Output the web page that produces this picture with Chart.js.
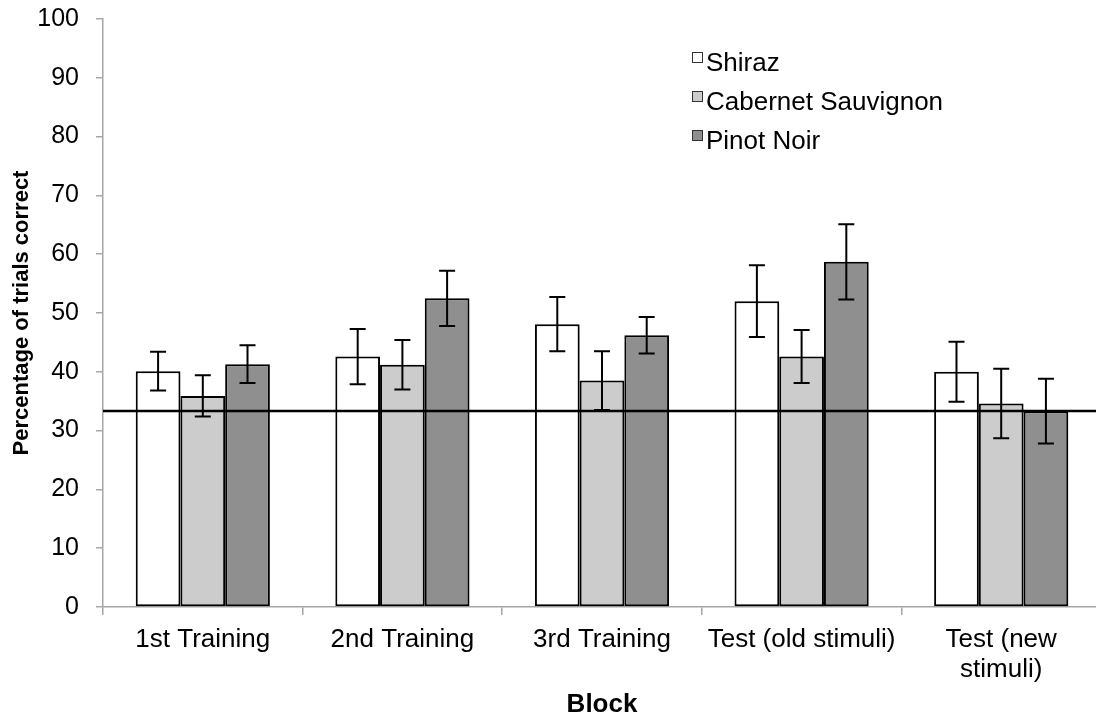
<!DOCTYPE html>
<html>
<head>
<meta charset="utf-8">
<script src="https://cdn.jsdelivr.net/npm/chart.js@4/dist/chart.umd.min.js"></script>
<style>
  html, body { margin: 0; padding: 0; background: #fff; overflow: hidden; }
  #wrap { width: 1101px; height: 717px; }
</style>
</head>
<body>
<div id="wrap"><canvas id="c" width="1101" height="717"></canvas></div>
<script>
// Blocks of the experiment
const blocks = ['1st Training', '2nd Training', '3rd Training', 'Test (old stimuli)', ['Test (new', 'stimuli)']];

// Mean percentage of trials correct per wine variety
const shiraz    = [40.1, 42.6, 48.1, 52.0, 40.0];
const cabernet  = [35.9, 41.2, 38.5, 42.6, 34.6];
const pinotNoir = [41.3, 52.5, 46.2, 58.7, 33.3];

// Error bar half-widths (+/-)
const shirazErr    = [3.3, 4.7, 4.6, 6.1, 5.1];
const cabernetErr  = [3.5, 4.2, 5.0, 4.5, 5.9];
const pinotNoirErr = [3.2, 4.7, 3.1, 6.4, 5.5];

// Chance level (one in three)
const chanceLevel = 33.33;

const yTicks = { min: 0, max: 100, step: 10 };

const FONT = "'Liberation Sans', Arial, Helvetica, sans-serif";

const errorBars = {
  id: 'errorBars',
  afterDatasetsDraw(chart) {
    const ctx = chart.ctx;
    const y = chart.scales.y;
    ctx.save();
    ctx.shadowColor = 'transparent';
    ctx.strokeStyle = '#000';
    ctx.lineWidth = 2;
    chart.data.datasets.forEach((ds, i) => {
      const meta = chart.getDatasetMeta(i);
      meta.data.forEach((bar, j) => {
        const v = ds.data[j], e = ds.errors[j];
        const top = y.getPixelForValue(v + e);
        const bot = y.getPixelForValue(v - e);
        const x = bar.x, cap = 8;
        ctx.beginPath();
        ctx.moveTo(x, top); ctx.lineTo(x, bot);
        ctx.moveTo(x - cap, top); ctx.lineTo(x + cap, top);
        ctx.moveTo(x - cap, bot); ctx.lineTo(x + cap, bot);
        ctx.stroke();
      });
    });
    // chance reference line
    const yc = y.getPixelForValue(chanceLevel);
    ctx.lineWidth = 2.5;
    ctx.beginPath();
    ctx.moveTo(chart.chartArea.left, yc);
    ctx.lineTo(chart.chartArea.right, yc);
    ctx.stroke();
    ctx.restore();
  }
};

const barShadow = {
  id: 'barShadow',
  beforeDatasetsDraw(chart) {
    const ctx = chart.ctx;
    ctx.save();
    ctx.shadowColor = 'rgba(0,0,0,0.22)';
    ctx.shadowBlur = 4;
    ctx.shadowOffsetX = 2;
    ctx.shadowOffsetY = 2;
  },
  afterDatasetsDraw(chart) {
    chart.ctx.restore();
  }
};

const boxLegend = {
  id: 'boxLegend',
  afterDraw(chart) {
    const ctx = chart.ctx;
    ctx.save();
    ctx.font = '26px ' + FONT;
    ctx.textBaseline = 'alphabetic';
    ctx.textAlign = 'left';
    chart.data.datasets.forEach((ds, i) => {
      const by = 71 + i * 39;
      ctx.fillStyle = ds.backgroundColor;
      ctx.fillRect(692, by - 19, 11, 11);
      ctx.strokeStyle = '#333';
      ctx.lineWidth = 1;
      ctx.strokeRect(692.5, by - 18.5, 10, 10);
      ctx.fillStyle = '#000';
      ctx.fillText(ds.label, 706, by);
    });
    ctx.restore();
  }
};

const mkSet = (label, data, errors, color) => ({
  label, data, errors,
  backgroundColor: color,
  borderColor: '#000',
  borderWidth: 2,
  borderSkipped: false,
  categoryPercentage: 0.672,
  barPercentage: 1.0
});

new Chart(document.getElementById('c'), {
  type: 'bar',
  data: {
    labels: blocks,
    datasets: [
      mkSet('Shiraz', shiraz, shirazErr, '#ffffff'),
      mkSet('Cabernet Sauvignon', cabernet, cabernetErr, '#cccccc'),
      mkSet('Pinot Noir', pinotNoir, pinotNoirErr, '#8f8f8f')
    ]
  },
  options: {
    responsive: false,
    animation: false,
    layout: { padding: { top: 19, left: 0, right: 0, bottom: 0 } },
    plugins: { legend: { display: false }, tooltip: { enabled: false } },
    scales: {
      x: {
        grid: { display: true, drawOnChartArea: false, drawTicks: true, tickLength: 8, color: '#a6a6a6', lineWidth: 1.5 },
        border: { color: '#a6a6a6', width: 1.5 },
        ticks: { color: '#000', font: { family: FONT, size: 26, lineHeight: 1.15 }, padding: 10, maxRotation: 0, autoSkip: false },
        title: { display: true, text: 'Block', color: '#000', font: { family: FONT, size: 26, weight: 'bold', lineHeight: 0.9 }, padding: { top: 0, bottom: 0 } },
        afterFit(scale) { scale.height = 110; scale.paddingLeft = 0; scale.paddingRight = 0; }
      },
      y: {
        min: yTicks.min, max: yTicks.max,
        grid: { display: true, drawOnChartArea: false, drawTicks: true, tickLength: 7, color: '#a6a6a6', lineWidth: 1.5 },
        border: { color: '#a6a6a6', width: 1.5 },
        ticks: { stepSize: yTicks.step, color: '#000', font: { family: FONT, size: 25 }, padding: 17 },
        title: { display: true, text: 'Percentage of trials correct', color: '#000', font: { family: FONT, size: 22, weight: 'bold' }, padding: { top: 9, bottom: 0 } },
        afterFit(scale) { scale.width = 103; scale.paddingTop = 0; scale.paddingBottom = 0; }
      }
    }
  },
  plugins: [barShadow, errorBars, boxLegend]
});
</script>
</body>
</html>
